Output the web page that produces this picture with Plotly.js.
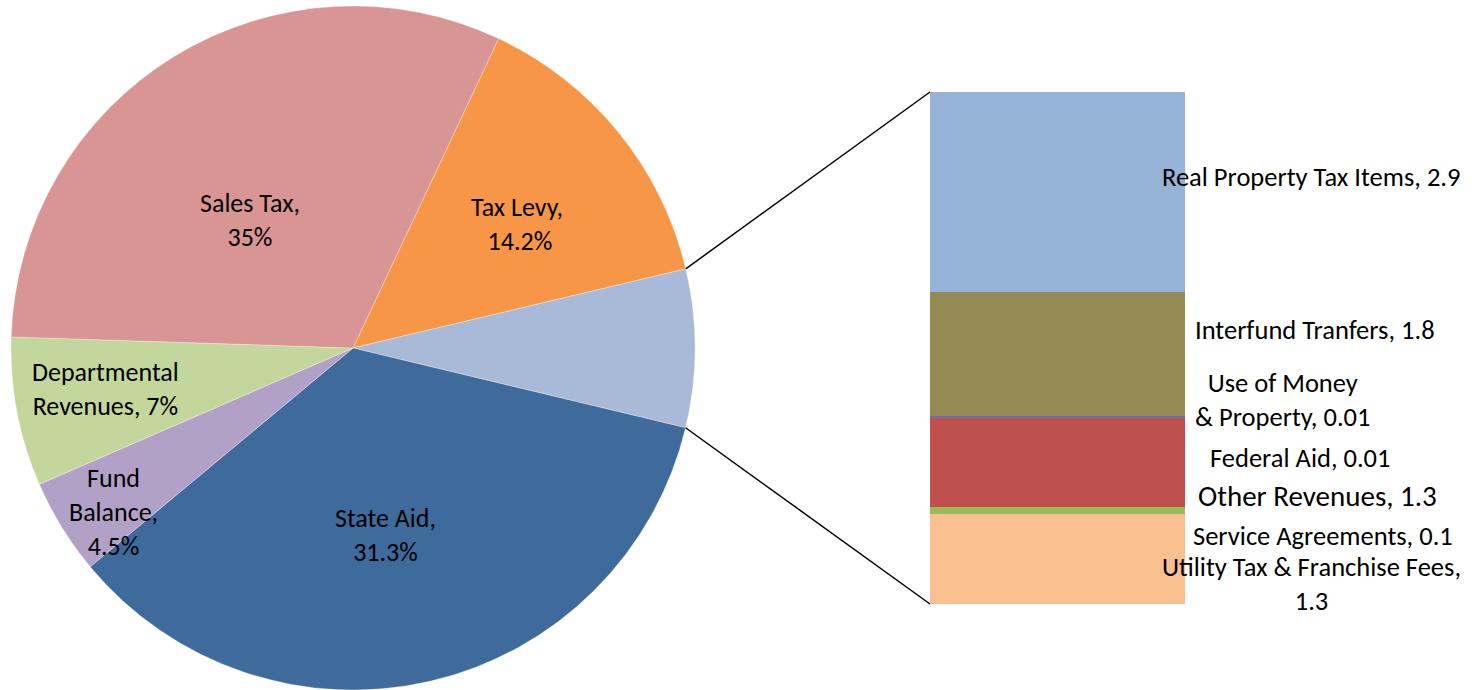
<!DOCTYPE html>
<html>
<head>
<meta charset="utf-8">
<script src="https://cdn.plot.ly/plotly-3.0.1.min.js"></script>
<style>html,body{margin:0;padding:0;background:#fff;}#chart{width:1481px;height:690px;}</style>
</head>
<body>
<div id="chart"></div>
<script>
// ---- data ----
const pieNames = ["Tax Levy", "Other", "State Aid", "Fund Balance", "Departmental Revenues", "Sales Tax"];
const pieValues = [14.2, null, 35, 4.5, 7, 31.3]; // "Other" = sum of bar segments
const pieLabelText = ["Tax Levy,<br> 14.2%", "", "State Aid,<br>31.3%", "Fund<br>Balance,<br>4.5%", "Departmental<br>Revenues, 7%", "Sales Tax,<br>35%"];
const pieColors = ["#F79646", "#A9BAD8", "#3F6A9C", "#B2A1C7", "#C3D69B", "#D99594"];

const barNames = ["Utility Tax & Franchise Fees", "Service Agreements", "Other Revenues", "Federal Aid", "Use of Money & Property", "Interfund Tranfers", "Real Property Tax Items"];
const barValues = [1.3, 0.1, 1.3, 0.01, 0.01, 1.8, 2.9];
const barLabelText = ["Utility Tax & Franchise Fees,<br>1.3", "Service Agreements, 0.1", "Other Revenues, 1.3", "Federal Aid, 0.01", "Use of Money<br>& Property, 0.01", "Interfund Tranfers, 1.8", "Real Property Tax Items, 2.9"];
const barColors = ["#FAC090", "#9BBB59", "#C0504D", "#4F81BD", "#8064A2", "#948A54", "#95B3D7"];

// ---- layout geometry ----
const W = 1481, H = 690;
const FONT = "Carlito, Lato, 'Liberation Sans', sans-serif";
const barTotal = barValues.reduce((a, b) => a + b, 0);
const pieVals = pieValues.map(v => v === null ? barTotal : v);
const pieTotal = pieVals.reduce((a, b) => a + b, 0);
const rotation = 25.2;

const pieDomX = [11 / W, 695 / W];
const pieDomY = [0, 684 / H];
const barDomX = [930 / W, 1185 / W];
const barDomY = [86 / H, 598 / H];

const data = [{
  type: "pie",
  values: pieVals,
  labels: pieNames,
  marker: {colors: pieColors, line: {color: "rgba(255,255,255,0.6)", width: 0.5}},
  sort: false,
  direction: "clockwise",
  rotation: rotation,
  textinfo: "none",
  hoverinfo: "label+value",
  domain: {x: pieDomX, y: pieDomY},
  showlegend: false
}];
barNames.forEach((n, i) => {
  data.push({
    type: "bar",
    x: [0],
    y: [barValues[i]],
    name: n,
    width: 1,
    marker: {color: barColors[i], line: {width: 0}},
    xaxis: "x", yaxis: "y",
    showlegend: false,
    hoverinfo: "name+y"
  });
});

// connector lines computed from pie geometry
const cx = (pieDomX[0] + pieDomX[1]) / 2 * W;
const cy = H - (pieDomY[0] + pieDomY[1]) / 2 * H;
const r = Math.min((pieDomX[1] - pieDomX[0]) * W, (pieDomY[1] - pieDomY[0]) * H) / 2;
const a1 = (rotation + 360 * pieVals[0] / pieTotal) * Math.PI / 180;
const a2 = a1 + 360 * pieVals[1] / pieTotal * Math.PI / 180;
function pt(a) { return [(cx + r * Math.sin(a)) / W, 1 - (cy - r * Math.cos(a)) / H]; }
const p1 = pt(a1), p2 = pt(a2);
const shapes = [
  {type: "line", xref: "paper", yref: "paper", x0: p1[0], y0: p1[1], x1: barDomX[0], y1: barDomY[1], line: {color: "#000", width: 1.5}},
  {type: "line", xref: "paper", yref: "paper", x0: p2[0], y0: p2[1], x1: barDomX[0], y1: barDomY[0], line: {color: "#000", width: 1.5}}
];

// label positions (pixel centres)
const piePos = [[517, 224], null, [386, 535], [113, 512], [105, 389], [250, 220]];
const barPos = [[1311, 584], [1323, 536], [1317, 496], [1300, 458], [1282, 400], [1315, 330], [1311, 177]];
const barFontSizes = [26.5, 26.5, 29, 26.5, 26.5, 26.5, 26.5];
const annotations = [];
piePos.forEach((p, i) => {
  if (!p) return;
  annotations.push({xref: "paper", yref: "paper", x: p[0] / W, y: 1 - p[1] / H, xanchor: "center", yanchor: "middle",
    text: pieLabelText[i], showarrow: false, align: "center", font: {family: FONT, size: 26, color: "#000"}});
});
barPos.forEach((p, i) => {
  annotations.push({xref: "paper", yref: "paper", x: p[0] / W, y: 1 - p[1] / H, xanchor: "center", yanchor: "middle",
    text: barLabelText[i], showarrow: false, align: "center", font: {family: FONT, size: barFontSizes[i], color: "#000"}});
});

const layout = {
  width: W, height: H,
  margin: {l: 0, r: 0, t: 0, b: 0},
  paper_bgcolor: "#fff", plot_bgcolor: "rgba(0,0,0,0)",
  barmode: "stack",
  bargap: 0,
  showlegend: false,
  xaxis: {domain: barDomX, range: [-0.5, 0.5], visible: false, fixedrange: true},
  yaxis: {domain: barDomY, range: [0, barTotal], visible: false, fixedrange: true},
  shapes: shapes,
  annotations: annotations,
  font: {family: FONT}
};
Plotly.newPlot("chart", data, layout, {displayModeBar: false, staticPlot: true});
</script>
</body>
</html>
